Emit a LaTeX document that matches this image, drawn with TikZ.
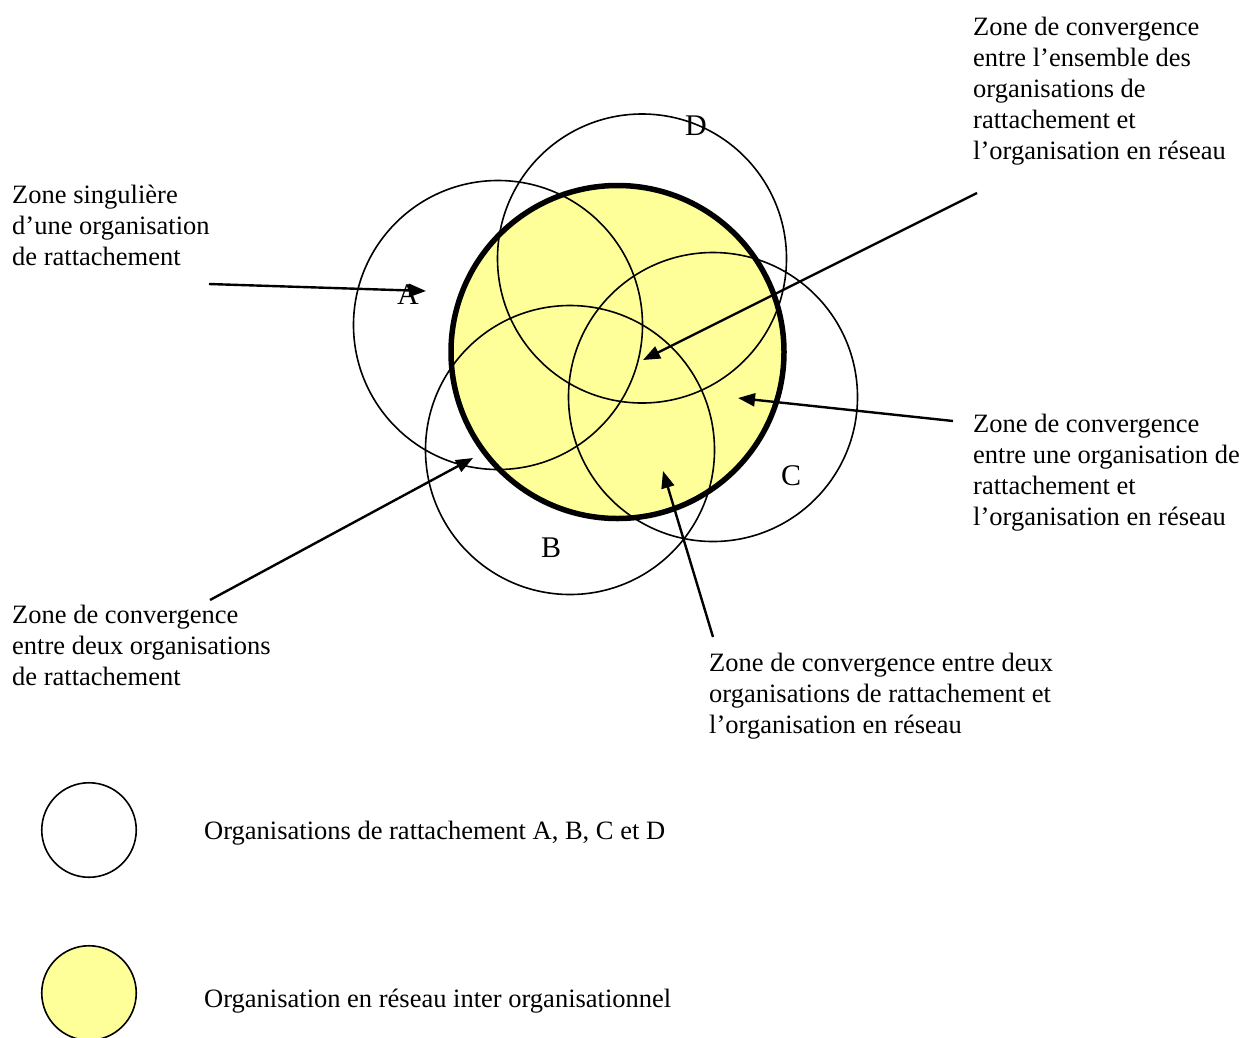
\documentclass[tikz,border=0pt]{standalone}
\usepackage{fontspec}
\setmainfont{Liberation Serif}
\usetikzlibrary{arrows.meta}
\definecolor{netyellow}{RGB}{255,255,153}
\begin{document}
\begin{tikzpicture}[x=1pt,y=-1pt,
  org/.style={circle,draw,line width=1.6pt,minimum size=289pt,inner sep=0pt},
  netfill/.style={circle,fill=netyellow,minimum size=333pt,inner sep=0pt},
  netborder/.style={circle,draw,line width=5.5pt,minimum size=333pt,inner sep=0pt},
  legorg/.style={circle,draw,line width=1.6pt,minimum size=94.5pt,inner sep=0pt},
  lbl/.style={font=\fontsize{30}{36}\selectfont,anchor=base,inner sep=0pt},
  txt/.style={font=\fontsize{26.5}{31}\selectfont,align=left,anchor=north west,inner sep=0pt},
  legtxt/.style={font=\fontsize{26.5}{31}\selectfont,anchor=base west,inner sep=0pt},
  arr/.style={line width=2.4pt,-{Triangle[length=17pt,width=13pt]}},
]
\path[use as bounding box,fill=white] (0,0) rectangle (1252,1037);

% network organisation (fill)
\node[netfill] (N) at (617.5,352) {};
% organisations de rattachement
\node[org] (A) at (498,325) {};
\node[org] (D) at (642,258.5) {};
\node[org] (C) at (713,397) {};
\node[org] (B) at (570,450) {};
% network organisation (border)
\node[netborder] (Nb) at (617.5,352) {};

% letters
\node[lbl] (lA) at (408,304) {A};
\node[lbl] (lD) at (696,135) {D};
\node[lbl] (lC) at (791,485) {C};
\node[lbl] (lB) at (551,557) {B};

% texts
\node[txt] (t1) at (973,16.5) {Zone de convergence\\entre l’ensemble des\\organisations de\\rattachement et\\l’organisation en réseau};
\node[txt] (t2) at (12,185) {Zone singulière\\d’une organisation\\de rattachement};
\node[txt] (t3) at (973,413.5) {Zone de convergence\\entre une organisation de\\rattachement et\\l’organisation en réseau};
\node[txt] (t4) at (12,605) {Zone de convergence\\entre deux organisations\\de rattachement};
\node[txt] (t5) at (709,653) {Zone de convergence entre deux\\organisations de rattachement et\\l’organisation en réseau};

% arrows
\coordinate (s1) at (209,284); \coordinate (e1) at (426,291);
\coordinate (s2) at (977,193); \coordinate (e2) at (643,360);
\coordinate (s3) at (953,421); \coordinate (e3) at (738,398);
\coordinate (s4) at (713,637); \coordinate (e4) at (663,471);
\coordinate (s5) at (210,600); \coordinate (e5) at (473,458);
\draw[arr] (s1) -- (e1);
\draw[arr] (s2) -- (e2);
\draw[arr] (s3) -- (e3);
\draw[arr] (s4) -- (e4);
\draw[arr] (s5) -- (e5);

% legend
\node[legorg] (L1) at (89,830) {};
\node[legorg,fill=netyellow] (L2) at (89,993) {};
\node[legtxt] (lt1) at (204,839) {Organisations de rattachement A, B, C et D};
\node[legtxt] (lt2) at (204,1007) {Organisation en réseau inter organisationnel};
\end{tikzpicture}
\end{document}
